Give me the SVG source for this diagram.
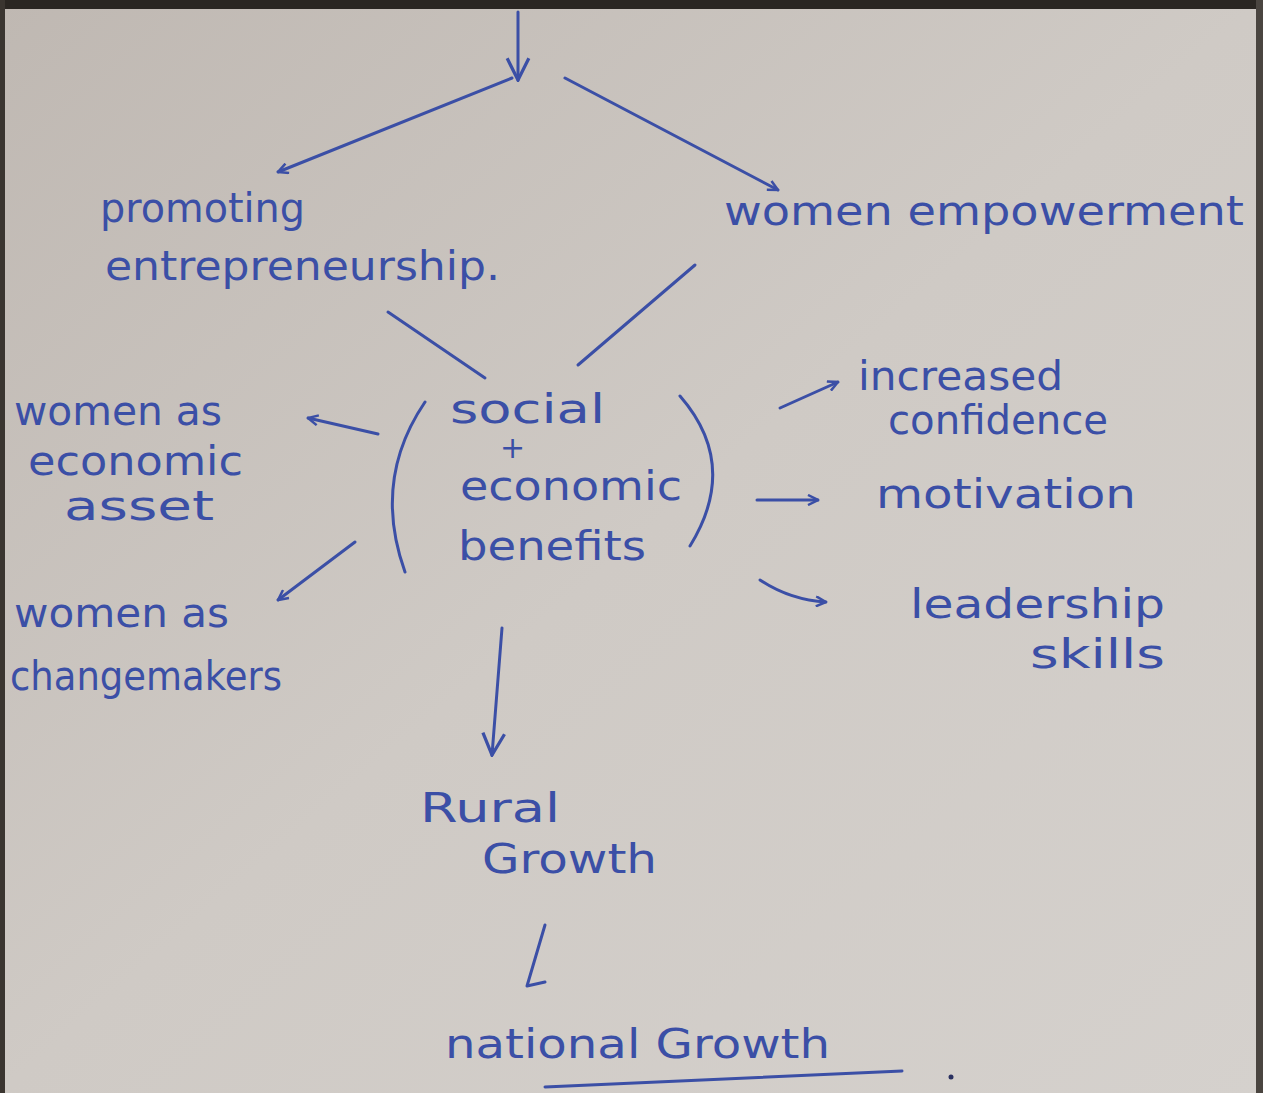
<svg xmlns="http://www.w3.org/2000/svg" width="1263" height="1093" viewBox="0 0 1263 1093">
<defs>
<linearGradient id="paper" x1="0" y1="0" x2="1" y2="1">
<stop offset="0" stop-color="#bfb8b2"/>
<stop offset="0.5" stop-color="#cfcac5"/>
<stop offset="1" stop-color="#d5d1cd"/>
</linearGradient>
<marker id="ah" viewBox="0 0 12 12" refX="11" refY="6" markerWidth="12" markerHeight="12" markerUnits="userSpaceOnUse" orient="auto">
<path d="M1,1 L11,6 L1,11" fill="none" stroke="#3b4fa6" stroke-width="2.5"/>
</marker>
<marker id="ahb" viewBox="0 0 24 24" refX="22" refY="12" markerWidth="26" markerHeight="26" markerUnits="userSpaceOnUse" orient="auto">
<path d="M2,2 L22,12 L2,22" fill="none" stroke="#3b4fa6" stroke-width="3"/>
</marker>
</defs>
<style>
.ink{fill:none;stroke:#3b4fa6;stroke-width:3;stroke-linecap:round;stroke-linejoin:round}
.t{font-family:"DejaVu Sans","Liberation Sans",sans-serif;font-size:40px;fill:#3b4fa6}
</style>
<rect x="0" y="0" width="1263" height="1093" fill="url(#paper)"/>
<rect x="0" y="0" width="1263" height="9" fill="#2a2622"/>
<rect x="0" y="0" width="5" height="1093" fill="#3a3530"/>
<rect x="1256" y="0" width="7" height="1093" fill="#4a4540"/>

<g id="connectors">
<path class="ink" d="M518,12 L518,80" marker-end="url(#ahb)"/>
<path class="ink" d="M512,78 L278,172" marker-end="url(#ah)"/>
<path class="ink" d="M565,78 L778,190" marker-end="url(#ah)"/>
<path class="ink" d="M388,312 L485,378"/>
<path class="ink" d="M695,265 L578,365"/>
<path class="ink" d="M378,434 L308,418" marker-end="url(#ah)"/>
<path class="ink" d="M355,542 L278,600" marker-end="url(#ah)"/>
<path class="ink" d="M780,408 L838,382" marker-end="url(#ah)"/>
<path class="ink" d="M757,500 L818,500" marker-end="url(#ah)"/>
<path class="ink" d="M760,580 Q790,600 826,602" marker-end="url(#ah)"/>
<path class="ink" d="M502,628 L492,755" marker-end="url(#ahb)"/>
<path class="ink" d="M545,925 L527,986 L545,982"/>
<path class="ink" d="M545,1087 L902,1071"/>
</g>

<g id="node-promoting">
<text class="t" x="100" y="222" textLength="205" lengthAdjust="spacingAndGlyphs">promoting</text>
<text class="t" x="105" y="280" textLength="395" lengthAdjust="spacingAndGlyphs">entrepreneurship.</text>
</g>

<g id="node-women-empowerment">
<text class="t" x="724" y="225" textLength="520" lengthAdjust="spacingAndGlyphs">women empowerment</text>
</g>

<g id="node-benefits">
<path class="ink" d="M425,402 Q372,480 405,572"/>
<path class="ink" d="M680,396 Q740,465 690,546"/>
<text class="t" x="450" y="423" textLength="155" lengthAdjust="spacingAndGlyphs">social</text>
<text class="t" x="500" y="458" style="font-size:30px">+</text>
<text class="t" x="460" y="500" textLength="222" lengthAdjust="spacingAndGlyphs">economic</text>
<text class="t" x="458" y="560" textLength="188" lengthAdjust="spacingAndGlyphs">benefits</text>
</g>

<g id="node-economic-asset">
<text class="t" x="14" y="425" textLength="208" lengthAdjust="spacingAndGlyphs">women as</text>
<text class="t" x="28" y="475" textLength="215" lengthAdjust="spacingAndGlyphs">economic</text>
<text class="t" x="64" y="520" textLength="150" lengthAdjust="spacingAndGlyphs">asset</text>
</g>

<g id="node-changemakers">
<text class="t" x="14" y="627" textLength="215" lengthAdjust="spacingAndGlyphs">women as</text>
<text class="t" x="10" y="690" textLength="272" lengthAdjust="spacingAndGlyphs">changemakers</text>
</g>

<g id="node-confidence">
<text class="t" x="858" y="390" textLength="205" lengthAdjust="spacingAndGlyphs">increased</text>
<text class="t" x="888" y="434" textLength="220" lengthAdjust="spacingAndGlyphs">confidence</text>
</g>

<g id="node-motivation">
<text class="t" x="876" y="508" textLength="260" lengthAdjust="spacingAndGlyphs">motivation</text>
</g>

<g id="node-leadership">
<text class="t" x="910" y="618" textLength="255" lengthAdjust="spacingAndGlyphs">leadership</text>
<text class="t" x="1030" y="668" textLength="135" lengthAdjust="spacingAndGlyphs">skills</text>
</g>

<g id="node-rural">
<text class="t" x="420" y="822" textLength="140" lengthAdjust="spacingAndGlyphs">Rural</text>
<text class="t" x="482" y="873" textLength="175" lengthAdjust="spacingAndGlyphs">Growth</text>
</g>

<g id="node-national">
<text class="t" x="445" y="1058" textLength="385" lengthAdjust="spacingAndGlyphs">national Growth</text>
<circle cx="951" cy="1077" r="2.5" fill="#2a3060"/>
</g>
</svg>
